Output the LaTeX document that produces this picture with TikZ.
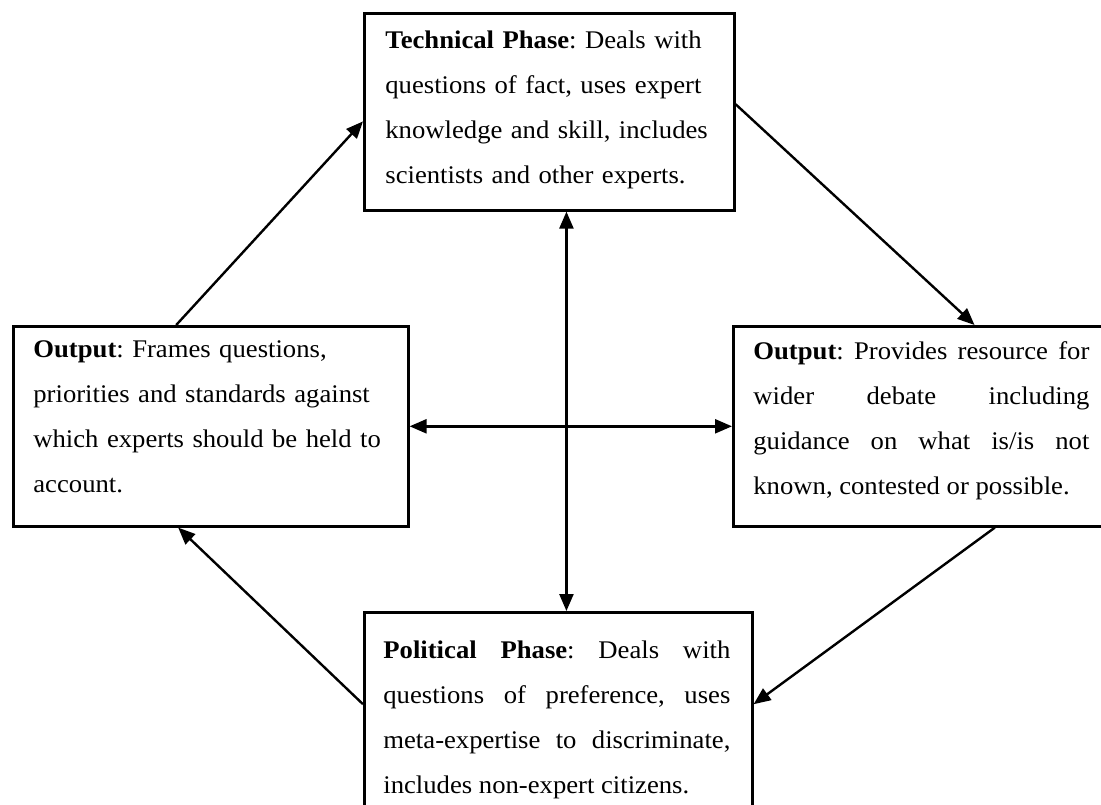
\documentclass[tikz,border=0pt]{standalone}
\usepackage{fontspec}
\setmainfont{Liberation Serif}[FakeStretch=1.05]
\usetikzlibrary{arrows.meta,calc}

\tikzset{
  phasebox/.style={draw,line width=1.3pt,inner sep=0pt,anchor=north west},
  phasetext/.style={inner sep=0pt,anchor=north west,
    font=\fontsize{12.7}{22.5}\selectfont\frenchspacing},
  arr/.style={line width=1.2pt,-{Triangle[length=8.5pt,width=7pt]}},
  dblarr/.style={line width=1.2pt,{Triangle[length=8.5pt,width=7pt]}-{Triangle[length=8.5pt,width=7pt]}}
}

\begin{document}
\begin{tikzpicture}[x=0.5pt,y=-0.5pt]
  \useasboundingbox (0,0) rectangle (1101,804);
  \clip (0,0) rectangle (1101,804);

  % boxes
  \node[phasebox,minimum width=185pt,minimum height=98.5pt] (tech) at (363,12) {};
  \node[phasebox,minimum width=197.5pt,minimum height=100pt] (outl) at (12,325) {};
  \node[phasebox,minimum width=197.5pt,minimum height=100pt] (outr) at (732,325) {};
  \node[phasebox,minimum width=194pt,minimum height=100pt] (pol) at (363,611) {};

  % texts
  \node[phasetext,text width=175pt,align=left] (techtxt) at (385,30)
    {\textbf{Technical Phase}: Deals with\\questions of fact, uses expert\\
     knowledge and skill, includes\\scientists and other experts.};
  \node[phasetext,text width=180pt,align=left] (outltxt) at (33,340)
    {\textbf{Output}: Frames questions,\\priorities and standards against\\
     which experts should be held to\\account.};
  \node[phasetext,text width=168pt,align=justify] (outrtxt) at (753,341)
    {\tolerance=10000\hbadness=10000\hyphenpenalty=10000
     \textbf{Output}: Provides resource for\linebreak wider debate including\linebreak
     guidance on what is/is not\linebreak known, contested or possible.};
  \node[phasetext,text width=173.5pt,align=justify] (poltxt) at (383,640)
    {\tolerance=10000\hbadness=10000\hyphenpenalty=10000
     \textbf{Political Phase}: Deals with\linebreak questions of preference, uses\linebreak
     meta-expertise to discriminate,\linebreak includes non-expert citizens.};

  % cycle
  \draw[arr] ($(outl.north west)!.413!(outl.north east)$) -- ($(tech.north west)!.548!(tech.south west)$);
  \draw[arr] ($(tech.north east)!.462!(tech.south east)$) -- ($(outr.north west)!.61!(outr.north east)$);
  \draw[arr] ($(outr.south west)!.661!(outr.south east)$) -- ($(pol.north east)!.46!(pol.south east)$);
  \draw[arr] ($(pol.north west)!.46!(pol.south west)$) -- ($(outl.south west)!.418!(outl.south east)$);

  % cross
  \draw[dblarr] ($(tech.south west)!.546!(tech.south east)$) coordinate (vtop) -- (vtop |- pol.north);
  \draw[dblarr] (outl.east) -- (outl.east -| outr.west);
\end{tikzpicture}
\end{document}
